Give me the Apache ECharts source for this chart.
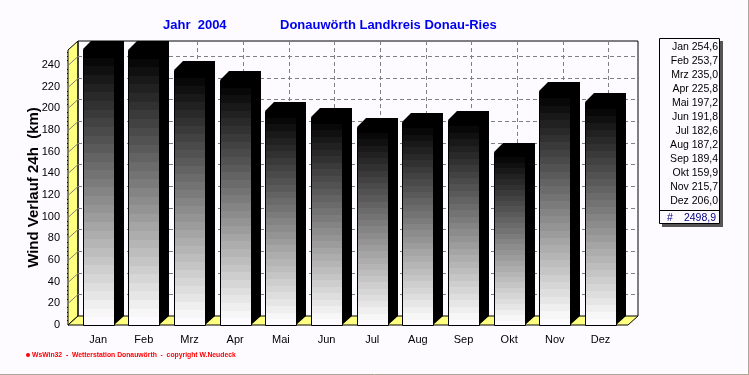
<!DOCTYPE html>
<html>
<head>
<meta charset="utf-8">
<style>
html,body{margin:0;padding:0;background:#fdfbff;}
#chart{width:749px;height:375px;}
</style>
<script src="https://cdn.jsdelivr.net/npm/echarts@6/dist/echarts.min.js"></script>
</head>
<body>
<div id="chart"></div>
<script>
// data
const months = ["Jan","Feb","Mrz","Apr","Mai","Jun","Jul","Aug","Sep","Okt","Nov","Dez"];
const windKm = [254.6,253.7,235.0,225.8,197.2,191.8,182.6,187.2,189.4,159.9,215.7,206.0];
const windTotal = 2498.9;
const yTicks = [20,40,60,80,100,120,140,160,180,200,220,240];

// layout of the fake 3d box
const FONT = "'Liberation Sans', Arial, sans-serif";
const DX = 10, DY = 9;
const FL = 68, FR = 628, FB = 325, FT = 50;
const BG = "#fdfbff", YELLOW = "#ffff80", GRID = "#808080";
const BAR_W = 31, BANDS = 32;

const chart = echarts.init(document.getElementById("chart"));

function comma(v){ return v.toFixed(1).replace(".",","); }

// black -> white in hard steps
function bandStops(n){
  const stops = [];
  for(let i=0;i<n;i++){
    const g = Math.round(255*i/(n-1));
    const c = "rgb("+Math.min(g,253)+","+Math.min(g,251)+","+Math.min(g,255)+")";
    stops.push({offset:i/n,color:c},{offset:(i+1)/n,color:c});
  }
  return stops;
}
const barFill = new echarts.graphic.LinearGradient(0,0,0,1,bandStops(BANDS));

function renderBar(params,api){
  const p = api.coord([api.value(0),api.value(1)]);
  const x0 = Math.round(p[0]-BAR_W/2), x1 = x0+BAR_W;
  const y = Math.round(p[1]);
  const topY = Math.max(y-DY,FT-DY);
  return {type:"group",children:[
    {type:"polygon",shape:{points:[[x0,y],[x0+y-topY,topY],[x1+DX,topY],[x1+DX,FB-DY],[x1,FB],[x1,y]]},
      style:{fill:"#000"}},
    {type:"rect",shape:{x:x0+0.5,y:y+0.5,width:BAR_W,height:FB-y},
      style:{fill:barFill,stroke:"#000",lineWidth:1}}
  ]};
}

function renderDiag(params,api){
  const y = Math.round(api.coord([0,api.value(1)])[1])+0.5;
  return {type:"group",children:[
    {type:"line",shape:{x1:FL,y1:y,x2:FL+DX,y2:y-DY},style:{stroke:GRID,lineWidth:1}},
    {type:"line",shape:{x1:FL+DX,y1:y-DY,x2:FR+DX,y2:y-DY},style:{stroke:GRID,lineWidth:1,lineDash:[4,3]}}
  ]};
}

function renderVert(params,api){
  const x = Math.round(api.coord([api.value(0),0])[0])+8.5;
  return {type:"line",shape:{x1:x,y1:FT-DY,x2:x,y2:FB-DY},style:{stroke:GRID,lineWidth:1,lineDash:[4,3]}};
}

// legend box on the right
const legendTexts = months.map((m,i)=>({
  type:"text",right:31,top:42+i*14,z:10,
  style:{text:m+" "+comma(windKm[i]),font:"10.5px "+FONT,fill:"#000",textAlign:"right"}
}));

const option = {
  backgroundColor:BG,
  animation:false,
  title:[
    {text:"Jahr  2004",left:163,top:19,padding:0,textStyle:{color:"#0000f0",fontFamily:FONT,fontSize:13,fontWeight:"bold"}},
    {text:"Donauwörth Landkreis Donau-Ries",left:280,top:19,padding:0,textStyle:{color:"#0000f0",fontFamily:FONT,fontSize:13,fontWeight:"bold"}}
  ],
  grid:{left:75.33,width:548,top:FT,height:FB-FT},
  xAxis:[
    {type:"category",data:months,
      axisLine:{show:false},
      axisTick:{alignWithLabel:true,length:5,lineStyle:{color:"#555"}},
      axisLabel:{margin:9,fontFamily:FONT,fontSize:11,color:"#000"}},
    {type:"category",data:months,position:"bottom",
      axisLine:{show:false},
      axisTick:{length:3,lineStyle:{color:"#555"}},
      axisLabel:{show:false}}
  ],
  yAxis:{
    type:"value",min:0,max:253.8,interval:20,offset:7.33,
    name:"Wind Verlauf 24h  (km)",nameLocation:"middle",nameGap:27,nameMoveOverlap:false,
    nameTextStyle:{fontFamily:FONT,fontSize:15,fontWeight:"bold",color:"#000"},
    axisLine:{show:true,lineStyle:{color:"#000"}},
    axisTick:{length:3,lineStyle:{color:"#555"}},
    minorTick:{show:true,splitNumber:5,length:1,lineStyle:{color:"#000"}},
    splitLine:{show:false},
    axisLabel:{margin:8,fontFamily:FONT,fontSize:11,color:"#000",showMaxLabel:false,padding:[5,0,0,0]}
  },
  series:[
    {type:"custom",renderItem:renderDiag,z:3,silent:true,encode:{y:1},
      data:yTicks.map(v=>[0,v])},
    {type:"custom",renderItem:renderVert,z:3,silent:true,
      data:months.map((m,i)=>[i,0])},
    {type:"custom",renderItem:renderBar,z:5,silent:true,encode:{x:0,y:1},
      data:windKm.map((v,i)=>[i,v])}
  ],
  graphic:[
    // walls and floor
    {type:"polygon",z:1,shape:{points:[[FL,FT],[FL+DX,FT-DY],[FL+DX,FB-DY],[FL,FB]]},
      style:{fill:YELLOW,stroke:"#000",lineWidth:1}},
    {type:"polygon",z:1,shape:{points:[[FL,FB],[FL+DX,FB-DY],[FR+DX,FB-DY],[FR,FB]]},
      style:{fill:YELLOW,stroke:"#000",lineWidth:1}},
    {type:"polyline",z:1,shape:{points:[[FL+DX,FB-DY],[FL+DX,FT-DY],[FR+DX,FT-DY],[FR+DX,FB-DY]]},
      style:{fill:"none",stroke:"#000",lineWidth:1}},
    // legend
    {type:"rect",z:8,shape:{x:662,y:41,width:61,height:186},style:{fill:"#555"}},
    {type:"rect",z:9,shape:{x:659.5,y:38.5,width:60,height:185},style:{fill:BG,stroke:"#000",lineWidth:1}},
    {type:"line",z:9,shape:{x1:659,y1:210.5,x2:720,y2:210.5},style:{stroke:"#000",lineWidth:1}},
    ...legendTexts,
    {type:"text",left:667,top:213,z:10,style:{text:"#",font:"10.5px "+FONT,fill:"#000080"}},
    {type:"text",right:33,top:213,z:10,style:{text:comma(windTotal),font:"10.5px "+FONT,fill:"#000080",textAlign:"right"}},
    // footer
    {type:"circle",z:10,shape:{cx:28,cy:355,r:2},style:{fill:"#f00"}},
    {type:"text",left:32,top:352,z:10,style:{text:"WsWin32  -  Wetterstation Donauwörth  -  copyright W.Neudeck",font:"bold 6.8px "+FONT,fill:"#f00"}},
    // window edge
    {type:"line",z:10,shape:{x1:0,y1:374.5,x2:749,y2:374.5},style:{stroke:"#aca899",lineWidth:1}},
    {type:"line",z:10,shape:{x1:748.5,y1:0,x2:748.5,y2:375},style:{stroke:"#aca899",lineWidth:1}}
  ]
};

chart.setOption(option);
</script>
</body>
</html>
